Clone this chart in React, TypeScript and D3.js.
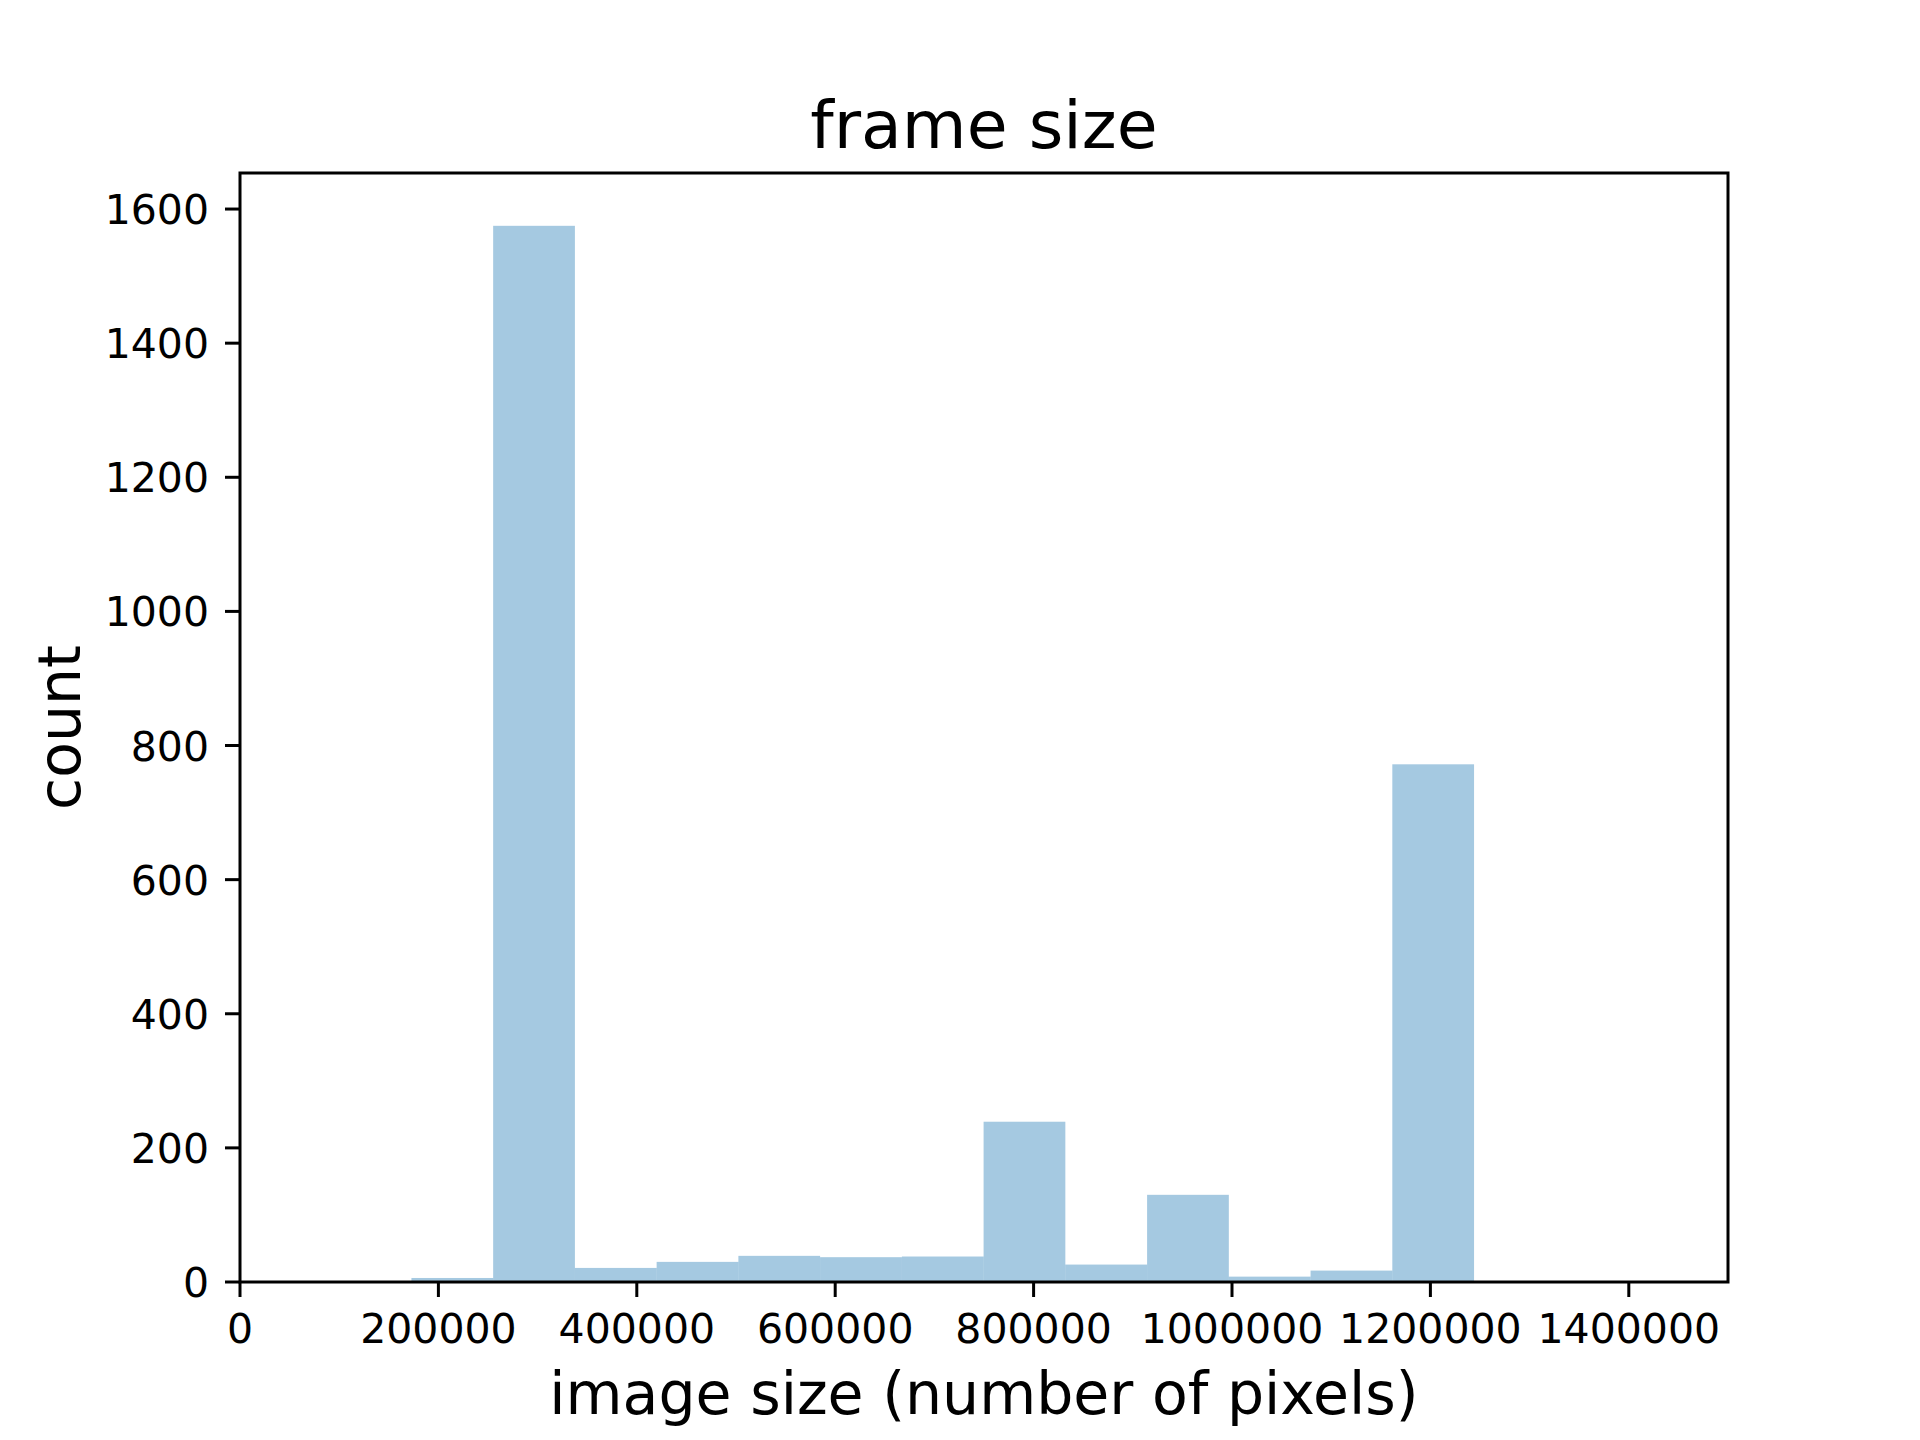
import React from 'react';
import * as d3 from 'd3';

// canvas
const width = 1920;
const height = 1440;

// plot area
const left = 240;
const right = 1728;
const top = 173;
const bottom = 1282;

// histogram data (bin edges in pixels, counts per bin)
const binEdges = [
  172800, 255200, 337600, 420000, 502400, 584800, 667200, 749600, 832000,
  914400, 996800, 1079200, 1161600, 1244000,
];
const counts = [6, 1575, 21, 30, 39, 37, 38, 239, 26, 130, 8, 17, 772];

const xTicks = [0, 200000, 400000, 600000, 800000, 1000000, 1200000, 1400000];
const yTicks = [0, 200, 400, 600, 800, 1000, 1200, 1400, 1600];

const title = 'frame size';
const xLabel = 'image size (number of pixels)';
const yLabel = 'count';

const font = 'DejaVu Sans';
const barColor = '#1f77b4';

const xScale = d3.scaleLinear().domain([0, 1500000]).range([left, right]);
const yScale = d3
  .scaleLinear()
  .domain([0, d3.max(counts)! * 1.05])
  .range([bottom, top]);

const fmt = d3.format('d');

const App = () => (
  <svg
    width={width}
    height={height}
    style={{ position: 'absolute', left: 0, top: 0, background: 'white' }}
  >
    {/* bars */}
    {counts.map((c, i) => (
      <rect
        key={i}
        x={xScale(binEdges[i])}
        y={yScale(c)}
        width={xScale(binEdges[i + 1]) - xScale(binEdges[i])}
        height={yScale(0) - yScale(c)}
        fill={barColor}
        fillOpacity={0.4}
      />
    ))}

    {/* frame */}
    <rect
      x={left}
      y={top}
      width={right - left}
      height={bottom - top}
      fill="none"
      stroke="black"
      strokeWidth={3}
    />

    {/* x ticks */}
    {xTicks.map((t) => (
      <g key={t} transform={`translate(${xScale(t)},${bottom})`}>
        <line y1={0} y2={15} stroke="black" strokeWidth={3} />
        <text
          y={61}
          textAnchor="middle"
          fontFamily={font}
          fontSize={41}
          fill="black"
        >
          {fmt(t)}
        </text>
      </g>
    ))}

    {/* y ticks */}
    {yTicks.map((t) => (
      <g key={t} transform={`translate(${left},${yScale(t)})`}>
        <line x1={-15} x2={0} stroke="black" strokeWidth={3} />
        <text
          x={-31}
          y={15}
          textAnchor="end"
          fontFamily={font}
          fontSize={41}
          fill="black"
        >
          {fmt(t)}
        </text>
      </g>
    ))}

    {/* labels */}
    <text
      x={(left + right) / 2}
      y={148}
      textAnchor="middle"
      fontFamily={font}
      fontSize={66.5}
      fill="black"
    >
      {title}
    </text>
    <text
      x={(left + right) / 2}
      y={1414}
      textAnchor="middle"
      fontFamily={font}
      fontSize={58.5}
      fill="black"
    >
      {xLabel}
    </text>
    <text
      transform={`translate(80,${(top + bottom) / 2}) rotate(-90)`}
      textAnchor="middle"
      fontFamily={font}
      fontSize={58.5}
      fill="black"
    >
      {yLabel}
    </text>
  </svg>
);

export default App;
